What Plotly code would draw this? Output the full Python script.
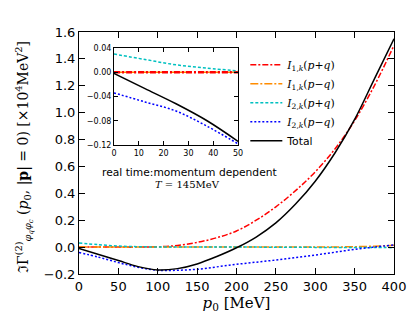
import plotly.graph_objects as go

# main panel, p0 in MeV
p0 = [0, 25, 50, 75, 100, 125, 150, 175, 200, 225, 250, 275, 300, 325, 350, 375, 400]
i1_plus = [0.0, 0.0, 0.0, 0.0, 0.002, 0.012, 0.035, 0.07, 0.12, 0.2, 0.3, 0.42, 0.56, 0.73, 0.94, 1.2, 1.5]
i1_minus = [0.0, 0.0, 0.0, 0.0, 0.0, 0.0, 0.0, 0.0, 0.0, 0.0, 0.0, 0.0, 0.0, 0.001, 0.003, 0.007, 0.013]
i2_plus = [0.03, 0.018, 0.008, 0.003, 0.001, 0.0, 0.0, 0.0, 0.0, 0.0, -0.001, -0.001, -0.002, -0.002, -0.003, -0.003, -0.004]
i2_minus = [-0.04, -0.075, -0.115, -0.15, -0.173, -0.172, -0.165, -0.147, -0.128, -0.112, -0.096, -0.078, -0.059, -0.038, -0.017, 0.0, 0.016]
total = [-0.01, -0.055, -0.1, -0.145, -0.17, -0.16, -0.125, -0.07, -0.005, 0.075, 0.18, 0.32, 0.49, 0.7, 0.95, 1.25, 1.55]

# inset, real time / momentum dependent
t_in = [0, 12.5, 25, 37.5, 50]
i1_plus_in = [0.0, 0.0, 0.0, 0.0, 0.0]
i1_minus_in = [0.0, 0.0, 0.0, 0.0, 0.0]
i2_plus_in = [0.03, 0.021, 0.0122, 0.0067, 0.0022]
i2_minus_in = [-0.034, -0.049, -0.064, -0.089, -0.118]
total_in = [-0.002, -0.027, -0.052, -0.08, -0.114]

names = ["<i>I</i><sub>1,<i>k</i></sub>(<i>p</i>+<i>q</i>)",
         "<i>I</i><sub>1,<i>k</i></sub>(<i>p</i>−<i>q</i>)",
         "<i>I</i><sub>2,<i>k</i></sub>(<i>p</i>+<i>q</i>)",
         "<i>I</i><sub>2,<i>k</i></sub>(<i>p</i>−<i>q</i>)",
         "<span style='font-family:DejaVu Sans'>Total</span>"]
colors = ["#ff0000", "#ff8c00", "#00c0c0", "#0000ff", "#000000"]
dashes = ["6px,2px,2px,2px", "8px,2px,2px,2px", "3px,2px", "2px,2px", "solid"]

fig = go.Figure()
main = [i1_plus, i1_minus, i2_plus, i2_minus, total]
inset = [i1_plus_in, i1_minus_in, i2_plus_in, i2_minus_in, total_in]
for i in range(5):
    fig.add_trace(go.Scatter(x=p0, y=main[i], name=names[i], mode='lines', line_shape='spline',
                             line=dict(color=colors[i], dash=dashes[i], width=1.5)))
for i in [1, 0, 2, 3, 4]:
    w = 2.5 if i == 0 else 1.5
    fig.add_trace(go.Scatter(x=t_in, y=inset[i], mode='lines', line_shape='spline', showlegend=False,
                             xaxis='x2', yaxis='y2',
                             line=dict(color=colors[i], dash=dashes[i], width=w)))

axis_style = dict(showline=True, linecolor='black', linewidth=1, mirror='allticks', ticks='inside',
                  showgrid=False, zeroline=False, tickcolor='black', automargin=False)
ytitle = ("ℑΓ<sup>(2)</sup><sub><i>φ<sub>q</sub>φ<sub>c</sub></i></sub> (<i>p</i><sub>0</sub>, "
          "|<b>p</b>| = 0) [×10<sup>4</sup>MeV<sup>2</sup>]")
# page body has an 8px margin, so the figure is a bit smaller than the window
fig.update_layout(
    width=407, height=315, margin=dict(l=71, r=21, t=24, b=49),
    plot_bgcolor='white', paper_bgcolor='white',
    font=dict(family='DejaVu Sans', size=13, color='black'),
    xaxis=dict(range=[0, 400], dtick=50, ticklen=6, **axis_style,
               title=dict(text="<i>p</i><sub>0</sub> [MeV]", standoff=4,
                          font=dict(family='DejaVu Serif', size=15))),
    yaxis=dict(range=[-0.2, 1.6], dtick=0.2, tickformat='.1f', ticklen=6, **axis_style),
    xaxis2=dict(domain=[0.111, 0.505], anchor='y2', range=[0, 50], dtick=10, ticklen=4,
                tickfont=dict(size=8), **axis_style),
    yaxis2=dict(domain=[0.533, 0.934], anchor='x2', range=[-0.12, 0.04], dtick=0.04, tickformat='.2f',
                ticklen=4, tickfont=dict(size=8), **axis_style),
    legend=dict(x=0.528, y=0.925, xanchor='left', yanchor='top', bgcolor='rgba(0,0,0,0)',
                font=dict(family='DejaVu Serif', size=10.8), tracegroupgap=0, itemwidth=32),
    annotations=[
        dict(x=-0.175, y=0.483, xref='paper', yref='paper', xanchor='center', yanchor='middle',
             textangle=-90, showarrow=False, text=ytitle,
             font=dict(family='DejaVu Serif', size=14)),
        dict(x=0.35, y=0.42, xref='paper', yref='paper', xanchor='center', showarrow=False,
             text="real time:momentum dependent", font=dict(family='DejaVu Sans', size=10.7)),
        dict(x=0.343, y=0.37, xref='paper', yref='paper', xanchor='center', showarrow=False,
             text="<i>T</i> = 145MeV", font=dict(family='DejaVu Serif', size=10)),
    ],
)

fig.write_html("out.html")
